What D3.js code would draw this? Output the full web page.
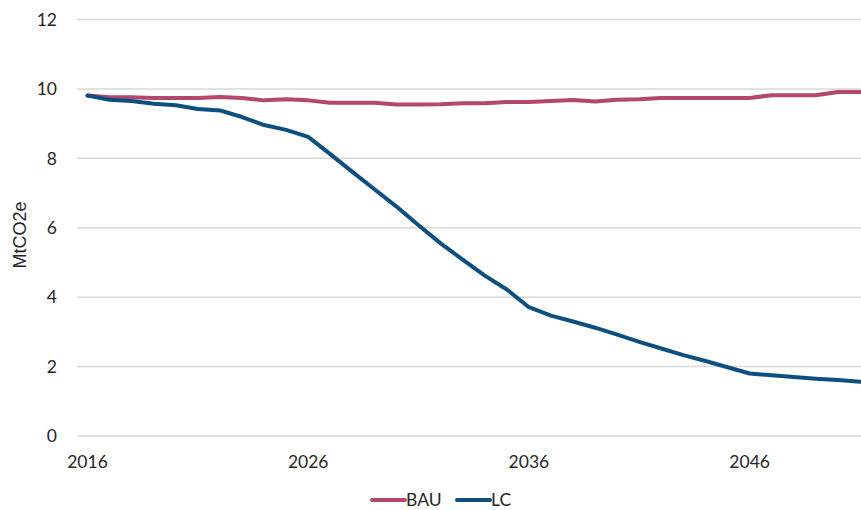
<!DOCTYPE html>
<html lang="en">
<head>
<meta charset="UTF-8">
<title>BAU vs LC emissions</title>
<script src="https://d3js.org/d3.v7.min.js"></script>
<style>
    body { margin: 0; background: #fff; }
    svg { display: block; }
    .tick-label { font-family: Lato, "Open Sans", sans-serif; font-size: 17.5px; fill: #262626; }
    .axis-title { font-family: "Liberation Sans", Arial, sans-serif; font-size: 18px; fill: #262626; }
    .legend-label { font-family: Lato, "Open Sans", sans-serif; font-size: 17.5px; fill: #262626; }
</style>
</head>
<body>
<div id="chart"></div>
<script>
    // data (MtCO2e)
    const years = d3.range(2016, 2052);
    const bau = [9.81, 9.76, 9.76, 9.74, 9.74, 9.74, 9.77, 9.74, 9.67, 9.70,
                 9.67, 9.60, 9.60, 9.60, 9.55, 9.55, 9.56, 9.59, 9.59, 9.62,
                 9.62, 9.65, 9.68, 9.64, 9.69, 9.70, 9.74, 9.74, 9.74, 9.74,
                 9.74, 9.82, 9.82, 9.82, 9.91, 9.91];
    const lc = [9.81, 9.69, 9.65, 9.57, 9.53, 9.42, 9.38, 9.19, 8.96, 8.82,
                8.62, 8.12, 7.61, 7.11, 6.61, 6.07, 5.55, 5.08, 4.62, 4.22,
                3.71, 3.47, 3.30, 3.12, 2.92, 2.71, 2.52, 2.33, 2.16, 1.98,
                1.80, 1.75, 1.70, 1.65, 1.61, 1.56];
    const yTicks = [0, 2, 4, 6, 8, 10, 12];
    const xTicks = [2016, 2026, 2036, 2046];
    const seriesNames = ["BAU", "LC"];
    const colors = ["#b5466c", "#0d4f80"];

    const W = 861, H = 510;
    const svg = d3.select("#chart").append("svg")
        .attr("width", W)
        .attr("height", H);

    const x = d3.scalePoint()
        .domain(years)
        .range([87.5, 860]);

    const y = d3.scaleLinear()
        .domain([0, 12])
        .range([436, 19.5]);

    // gridlines
    svg.append("g")
        .selectAll("line")
        .data(yTicks)
        .enter().append("line")
        .attr("x1", 77)
        .attr("x2", W)
        .attr("y1", d => y(d))
        .attr("y2", d => y(d))
        .attr("stroke", "#d9d9d9")
        .attr("stroke-width", 1.5);

    // y tick labels
    svg.append("g")
        .selectAll("text")
        .data(yTicks)
        .enter().append("text")
        .attr("class", "tick-label")
        .attr("x", 57)
        .attr("y", d => y(d))
        .attr("dy", "0.36em")
        .attr("text-anchor", "end")
        .text(d => d);

    // x tick labels
    svg.append("g")
        .selectAll("text")
        .data(xTicks)
        .enter().append("text")
        .attr("class", "tick-label")
        .attr("x", d => x(d))
        .attr("y", 468)
        .attr("text-anchor", "middle")
        .text(d => d);

    // y axis title
    svg.append("text")
        .attr("class", "axis-title")
        .attr("text-anchor", "middle")
        .attr("transform", "translate(26, 235) rotate(-90)")
        .text("MtCO2e");

    const line = d3.line()
        .x((d, i) => x(years[i]))
        .y(d => y(d));

    [bau, lc].forEach((s, i) => {
        svg.append("path")
            .datum(s)
            .attr("fill", "none")
            .attr("stroke", colors[i])
            .attr("stroke-width", 4)
            .attr("stroke-linejoin", "round")
            .attr("stroke-linecap", "round")
            .attr("d", line);
    });

    // legend
    const legendPos = [372, 457];
    const legend = svg.append("g");
    seriesNames.forEach((name, i) => {
        legend.append("line")
            .attr("x1", legendPos[i])
            .attr("x2", legendPos[i] + 33)
            .attr("y1", 500)
            .attr("y2", 500)
            .attr("stroke", colors[i])
            .attr("stroke-width", 4)
            .attr("stroke-linecap", "round");
        legend.append("text")
            .attr("class", "legend-label")
            .attr("x", legendPos[i] + 34)
            .attr("y", 500)
            .attr("dy", "0.36em")
            .text(name);
    });
</script>
</body>
</html>
